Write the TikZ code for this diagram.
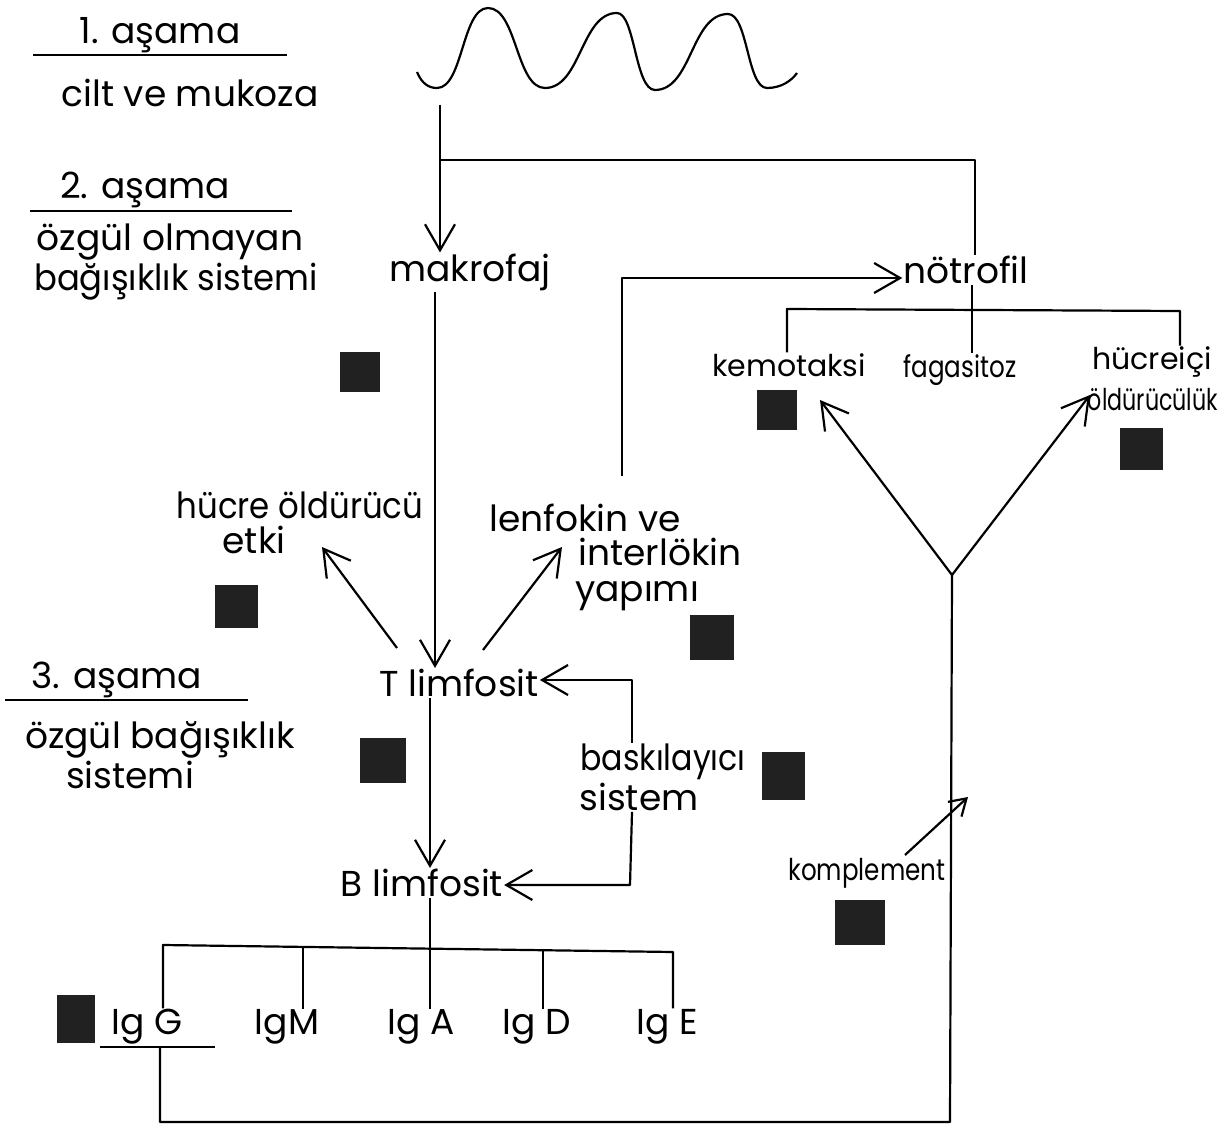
\documentclass[tikz,border=0pt]{standalone}
\usepackage{fontspec}
\usepackage{graphicx}
\setmainfont{Poppins}
\usetikzlibrary{arrows.meta}
\begin{document}
\begin{tikzpicture}[x=0.5pt,y=-0.5pt,line width=1.1pt,line join=round,
  tip/.style={-{Straight Barb[length=13pt,width=15pt,line width=1.1pt]}},
  smalltip/.style={-{Straight Barb[length=8pt,width=10pt,line width=1.1pt]}},
  lbl/.style={font=\fontsize{18}{20}\selectfont,inner sep=0pt},
  slbl/.style={font=\fontsize{15}{17}\selectfont,inner sep=0pt},
  sq/.style={fill=black!87,inner sep=0pt}]
\useasboundingbox (0,0) rectangle (1232,1134);
% stage labels
\node[lbl] (a1) at (160,35) {1. aşama};
\coordinate (u1a) at (33,55); \coordinate (u1b) at (287,55);
\draw (u1a) -- (u1b);
\node[lbl] (cilt) at (190,93) {cilt ve mukoza};
\node[lbl] (a2) at (145,190) {2. aşama};
\coordinate (u2a) at (30,211); \coordinate (u2b) at (292,211);
\draw (u2a) -- (u2b);
\node[lbl] (oz1) at (170,242) {özgül olmayan};
\node[lbl] (bag1) at (176,282) {\scalebox{0.94}[1]{bağışıklık sistemi}};
\node[lbl] (a3) at (117,680) {3. aşama};
\coordinate (u3a) at (5,700); \coordinate (u3b) at (248,700);
\draw (u3a) -- (u3b);
\node[lbl] (oz2) at (160,740) {özgül bağışıklık};
\node[lbl] (sis3) at (130,775) {sistemi};
% wave
\draw (417,72) .. controls (422,84) and (429,88) .. (437,88)
  .. controls (463,88) and (462,8) .. (488,8)
  .. controls (517,8) and (516,88) .. (545,88)
  .. controls (581,88) and (581,13) .. (617,13)
  .. controls (635,13) and (635,90) .. (655,90)
  .. controls (692,90) and (691,14) .. (728,14)
  .. controls (748,14) and (747,88) .. (767,88)
  .. controls (782,88) and (792,80) .. (797,73);
% main nodes
\node[lbl] (mak) at (470,272) {makrofaj};
\node[lbl] (not) at (966,270) {nötrofil};
\node[slbl] (kem) at (789,365) {kemotaksi};
\node[slbl] (fag) at (960,370) {\scalebox{0.82}[1]{fagasitoz}};
\node[slbl] (hic) at (1152,362) {hücreiçi};
\node[slbl] (old) at (1153,400) {\scalebox{0.74}[1]{öldürücülük}};
\node[lbl] (hoe) at (300,505) {\scalebox{0.9}[1]{hücre öldürücü}};
\node[lbl] (etki) at (254,540) {etki};
\node[lbl] (lenf) at (585,518) {lenfokin ve};
\node[lbl] (inter) at (660,552) {interlökin};
\node[lbl] (yap) at (637,596) {yapımı};
\node[lbl] (tl) at (459,683) {T limfosit};
\node[lbl] (bask) at (663,762) {\scalebox{0.88}[1]{baskılayıcı}};
\node[lbl] (sist) at (639,797) {sistem};
\node[lbl] (bl) at (422,883) {B limfosit};
\node[slbl] (komp) at (867,873) {\scalebox{0.82}[1]{komplement}};
\node[lbl] (igg) at (147,1027) {Ig G};
\node[lbl] (igm) at (287,1027) {IgM};
\node[lbl] (iga) at (421,1027) {Ig A};
\node[lbl] (igd) at (537,1027) {Ig D};
\node[lbl] (ige) at (667,1027) {Ig E};
% squares
\node[sq,minimum width=20pt,minimum height=20pt] (s1) at (360,372) {};
\node[sq,minimum width=20pt,minimum height=20pt] (s2) at (777,410) {};
\node[sq,minimum width=21.5pt,minimum height=21pt] (s3) at (1141,449) {};
\node[sq,minimum width=21.5pt,minimum height=21.5pt] (s4) at (236,606) {};
\node[sq,minimum width=22pt,minimum height=22.5pt] (s5) at (712,637) {};
\node[sq,minimum width=23pt,minimum height=22.5pt] (s6) at (383,760) {};
\node[sq,minimum width=21.5pt,minimum height=24pt] (s7) at (783,776) {};
\node[sq,minimum width=25pt,minimum height=22.5pt] (s8) at (860,922) {};
\node[sq,minimum width=19pt,minimum height=24pt] (s9) at (76,1019) {};
% connectors
\coordinate (w0) at (440,105);
\coordinate (wb) at (440,160);
\coordinate (wr) at (975,160);
\draw[tip] (w0) -- (mak.north -| w0);
\draw (wb) -- (wr) -- (not.north -| wr);
\draw[tip] (mak.south -| 435,0) -- (tl.north -| 435,0);
\draw[tip] (tl.south -| 430,0) -- (bl.north -| 430,0);
\coordinate (th) at (397,648); \coordinate (hh) at (322,547);
\draw[tip] (th) -- (hh);
\coordinate (tr) at (483,650); \coordinate (lh) at (562,547);
\draw[tip] (tr) -- (lh);
\coordinate (lt) at (622,476); \coordinate (lc) at (622,278);
\draw[tip] (lt) -- (lc) -- (not.west |- lc);
% nötrofil bracket
\coordinate (nb) at (972,307);
\coordinate (nl) at (787,309); \coordinate (nr) at (1180,311);
\draw (not.south -| nb) -- (fag.north -| nb);
\draw (kem.north -| nl) -- (nl) -- (nr) -- (hic.north -| nr);
% baskılayıcı
\coordinate (bt) at (632,680);
\coordinate (bb) at (630,885);
\draw[tip] (bask.north -| bt) -- (bt) -- (tl.east |- bt);
\draw[tip] (sist.south -| 632,0) -- (bb) -- (bl.east |- bb);
% Ig bracket
\coordinate (ib) at (430,948);
\coordinate (il) at (163,945); \coordinate (ir) at (673,952);
\draw (bl.south -| ib) -- (iga.north -| ib);
\draw (igg.north -| il) -- (il) -- (ir) -- (ige.north -| ir);
\draw (303,946.5) -- (igm.north -| 303,0);
\draw (543,950.5) -- (igd.north -| 543,0);
% bottom loop
\coordinate (gu1) at (100,1047); \coordinate (gu2) at (215,1047);
\draw (gu1) -- (gu2);
\coordinate (gl) at (160,1047);
\coordinate (bl1) at (160,1122); \coordinate (bl2) at (950,1122);
\coordinate (yc) at (952,575);
\draw (gl) -- (bl1) -- (bl2) -- (yc);
\coordinate (yk) at (820,400); \coordinate (yo) at (1090,395);
\draw[tip] (yc) -- (yk);
\draw[tip] (yc) -- (yo);
\coordinate (ka) at (905,855); \coordinate (kb) at (968,797);
\draw[smalltip] (ka) -- (kb);
\end{tikzpicture}
\end{document}
